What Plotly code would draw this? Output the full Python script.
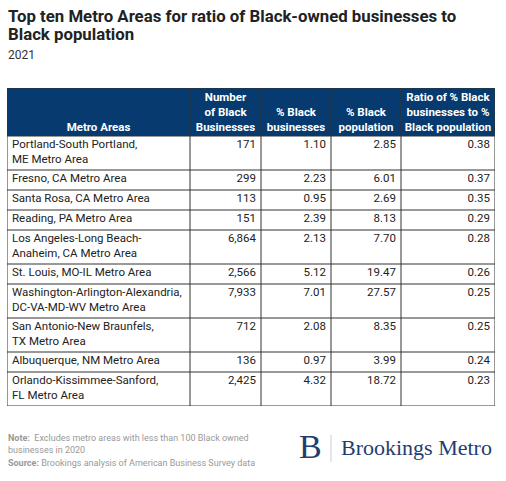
import plotly.graph_objects as go

# data
metro_areas = [
    "Portland-South Portland,<br>ME Metro Area",
    "Fresno, CA Metro Area",
    "Santa Rosa, CA Metro Area",
    "Reading, PA Metro Area",
    "Los Angeles-Long Beach-<br>Anaheim, CA Metro Area",
    "St. Louis, MO-IL Metro Area",
    "Washington-Arlington-Alexandria,<br>DC-VA-MD-WV Metro Area",
    "San Antonio-New Braunfels,<br>TX Metro Area",
    "Albuquerque, NM Metro Area",
    "Orlando-Kissimmee-Sanford,<br>FL Metro Area",
]
num_black_businesses = [171, 299, 113, 151, 6864, 2566, 7933, 712, 136, 2425]
pct_black_businesses = [1.10, 2.23, 0.95, 2.39, 2.13, 5.12, 7.01, 2.08, 0.97, 4.32]
pct_black_population = [2.85, 6.01, 2.69, 8.13, 7.70, 19.47, 27.57, 8.35, 3.99, 18.72]
ratio = [0.38, 0.37, 0.35, 0.29, 0.28, 0.26, 0.25, 0.25, 0.24, 0.23]

headers = [
    "Metro Areas",
    "Number<br>of Black<br>Businesses",
    "% Black<br>businesses",
    "% Black<br>population",
    "Ratio of % Black<br>businesses to %<br>Black population",
]

W, H = 506, 481
navy = "#073a6e"
grid = "#333333"
ink = "#222222"
font = "Roboto"

col_w = [183, 71, 70, 70, 94]
col_x = [sum(col_w[:i]) for i in range(len(col_w) + 1)]
head_h = 48
row_h = [14 * (m.count("<br>") + 1) + 6 for m in metro_areas]
row_y = [head_h + sum(row_h[:i]) for i in range(len(row_h) + 1)]
total_w, total_h = col_x[-1], row_y[-1]
left, top = 7, 88
pad = 5

columns = [
    metro_areas,
    ["{:,}".format(v) for v in num_black_businesses],
    ["%.2f" % v for v in pct_black_businesses],
    ["%.2f" % v for v in pct_black_population],
    ["%.2f" % v for v in ratio],
]

fig = go.Figure()

# cell text
for i, col in enumerate(columns):
    if i == 0:
        xs, pos = [col_x[0] + pad] * len(col), "bottom right"
    else:
        xs, pos = [col_x[i + 1] - pad] * len(col), "bottom left"
    fig.add_trace(go.Scatter(
        x=xs, y=[y + 3 for y in row_y[:-1]], text=col, mode="text",
        textposition=pos, textfont=dict(family=font, size=11.5, color=ink),
        hoverinfo="skip", showlegend=False,
    ))

# header text
fig.add_trace(go.Scatter(
    x=[(col_x[i] + col_x[i + 1]) / 2 for i in range(len(headers))],
    y=[head_h - 2] * len(headers),
    text=["<b>%s</b>" % h for h in headers], mode="text",
    textposition="top center",
    textfont=dict(family=font, size=11.5, color="white"),
    hoverinfo="skip", showlegend=False,
))

shapes = [dict(type="rect", xref="x", yref="y", x0=0, x1=total_w, y0=0, y1=head_h,
               fillcolor=navy, line=dict(width=0), layer="below")]
for y in [0] + row_y:
    shapes.append(dict(type="line", xref="x", yref="y", x0=0, x1=total_w, y0=y, y1=y,
                       line=dict(color=grid, width=1)))
for x in col_x:
    shapes.append(dict(type="line", xref="x", yref="y", x0=x, x1=x, y0=0, y1=total_h,
                       line=dict(color=grid, width=1)))
shapes.append(dict(type="line", xref="paper", yref="paper",
                   x0=331 / W, x1=331 / W, y0=1 - 435 / H, y1=1 - 462 / H,
                   line=dict(color="#c8cdd6", width=1)))

annotations = [
    dict(text="<b>Top ten Metro Areas for ratio of Black-owned businesses to</b>",
         x=6 / W, y=1 - 4 / H, font=dict(size=16.8, color=ink)),
    dict(text="<b>Black population</b>",
         x=6 / W, y=1 - 22 / H, font=dict(size=16.8, color=ink)),
    dict(text="2021", x=6 / W, y=1 - 46 / H, font=dict(size=12, color="#333333")),
    dict(text="<b>Note:</b>  Excludes metro areas with less than 100 Black owned<br>businesses in 2020",
         x=6 / W, y=1 - 431 / H, font=dict(size=9, color="#999999")),
    dict(text="<b>Source:</b> Brookings analysis of American Business Survey data",
         x=6 / W, y=1 - 456 / H, font=dict(size=9, color="#999999")),
    dict(text="B", x=297 / W, y=1 - 426 / H,
         font=dict(family="Liberation Serif", size=34, color="#1f3e6f")),
    dict(text="Brookings Metro", x=339 / W, y=1 - 433 / H,
         font=dict(family="Liberation Serif", size=22, color="#1f3e6f")),
]
for a in annotations:
    a.update(xref="paper", yref="paper", xanchor="left", yanchor="top",
             showarrow=False, align="left")
    a["font"].setdefault("family", font)

fig.update_layout(
    width=W, height=H,
    margin=dict(l=0, r=0, t=0, b=0),
    paper_bgcolor="white",
    plot_bgcolor="white",
    xaxis=dict(domain=[left / W, (left + total_w) / W], range=[0, total_w],
               visible=False, fixedrange=True),
    yaxis=dict(domain=[1 - (top + total_h) / H, 1 - top / H], range=[total_h, 0],
               visible=False, fixedrange=True),
    shapes=shapes,
    annotations=annotations,
)

fig.write_html("out.html", config={"displayModeBar": False},
               post_script="document.body.style.margin = '0';")
